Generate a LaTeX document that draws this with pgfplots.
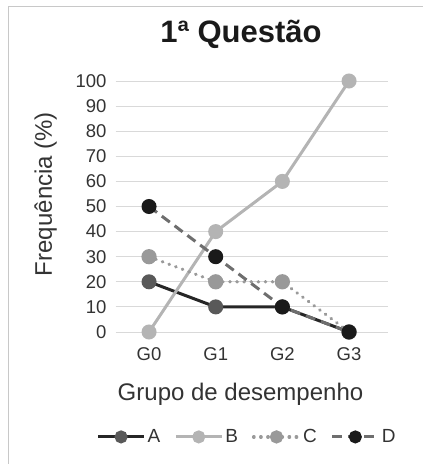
\documentclass[border=0pt]{standalone}
\usepackage{pgfplots}
\pgfplotsset{compat=1.18}
\usepackage{fontspec}
\setmainfont{Liberation Sans}
\definecolor{gridc}{HTML}{D9D9D9}
\definecolor{framec}{HTML}{C8C8C8}
\definecolor{txt}{HTML}{333333}
\definecolor{Aline}{HTML}{262626}
\definecolor{Amark}{HTML}{595959}
\definecolor{Bline}{HTML}{B4B4B4}
\definecolor{Cline}{HTML}{9A9A9A}
\definecolor{Cmark}{HTML}{999999}
\definecolor{Dline}{HTML}{6E6E6E}
\definecolor{Dmark}{HTML}{1A1A1A}
\begin{document}
\begin{tikzpicture}[x=1pt,y=1pt]
\path[use as bounding box] (0,0) rectangle (423,464);
\draw[framec, line width=1pt] (8,0) -- (8,457) -- (423,457);
\begin{axis}[
  at={(115.7pt,132pt)}, anchor=south west,
  scale only axis, width=272pt, height=251pt,
  xmin=-0.5, xmax=3.58, ymin=0, ymax=100,
  clip=false,
  axis line style={draw=none},
  major tick length=0pt,
  xtick={0,1,2,3}, xticklabels={G0,G1,G2,G3},
  ytick={0,10,...,100},
  ymajorgrids, grid style={gridc, line width=1pt},
  /pgf/number format/assume math mode=true,
  tick label style={font=\fontsize{18.5}{22}\selectfont, text=txt},
  yticklabel style={anchor=east, inner sep=0pt, xshift=-9pt},
  xticklabel style={anchor=north, inner sep=0pt, yshift=-15pt},
  legend columns=4,
  legend style={at={(0.483,-0.418)}, anchor=center, draw=none, fill=none,
    font=\fontsize{19}{22}\selectfont, text=txt,
    /tikz/every even column/.append style={column sep=12pt},
    /tikz/every odd column/.append style={column sep=0pt},
    inner sep=0pt, cells={anchor=west, inner xsep=3pt}},
  legend image code/.code={\draw[mark repeat=2,mark phase=2,#1,mark size=5pt] plot coordinates {(0pt,0pt) (23pt,0pt) (46pt,0pt)};},
]
\addplot[Aline, line width=3pt, mark=*, mark size=6pt, mark options={solid, draw=Amark, fill=Amark}]
  coordinates {(0,20) (1,10) (2,10) (3,0)};
\addlegendentry{A}
\addplot[Bline, line width=3pt, mark=*, mark size=6pt, mark options={solid, draw=Bline, fill=Bline}]
  coordinates {(0,0) (1,40) (2,60) (3,100)};
\addlegendentry{B}
\addplot[Cline, line width=3.2pt, line cap=round, dash pattern=on 0.6pt off 6.5pt, mark=*, mark size=6pt, mark options={solid, draw=Cmark, fill=Cmark}]
  coordinates {(0,30) (1,20) (2,20) (3,0)};
\addlegendentry{C}
\addplot[Dline, line width=3pt, dash pattern=on 10pt off 6pt, mark=*, mark size=6pt, mark options={solid, draw=Dmark, fill=Dmark}]
  coordinates {(0,50) (1,30) (2,10) (3,0)};
\addlegendentry{D}
\end{axis}
\node[anchor=base, font=\fontsize{31}{36}\selectfont\bfseries, text=Dmark] at (241,421) {1ª Questão};
\node[anchor=base, font=\fontsize{24}{28}\selectfont, text=txt] at (240.5,63) {Grupo de desempenho};
\node[anchor=base, rotate=90, font=\fontsize{24}{28}\selectfont, text=txt] at (52,270) {Frequência (\%)};
\end{tikzpicture}
\end{document}
